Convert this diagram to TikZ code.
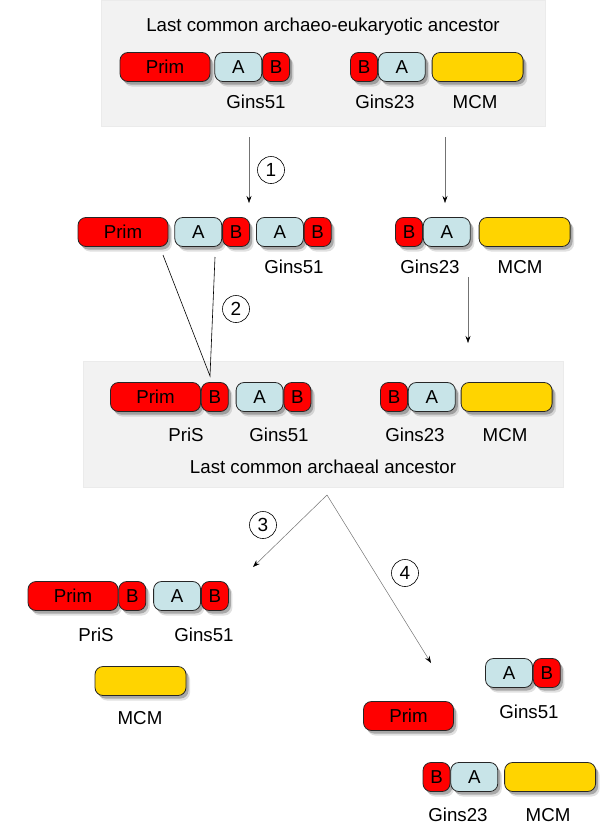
\documentclass[tikz,border=0pt]{standalone}
\usepackage{fontspec}
\setmainfont{Liberation Sans}
\usepackage{xcolor}
\usepackage{tikz}
\usetikzlibrary{arrows.meta, positioning, calc, shadows}

\definecolor{primred}{RGB}{255,0,0}
\definecolor{ablue}{RGB}{200,228,232}
\definecolor{mcmyellow}{RGB}{255,212,0}
\definecolor{panelgray}{RGB}{242,242,242}

\tikzset{
  pill/.style={draw=black!85, line width=0.8pt, rounded corners=8pt, minimum height=29pt,
    inner sep=0pt, text=black,
    drop shadow={shadow xshift=4pt, shadow yshift=-5pt, fill=black, opacity=0.12},
    drop shadow={shadow xshift=2.5pt, shadow yshift=-3pt, fill=black, opacity=0.25}},
  primbox/.style={pill, fill=primred, minimum width=90pt},
  abox/.style={pill, fill=ablue, minimum width=47pt},
  bbox/.style={pill, fill=primred, minimum width=27pt},
  mcmbox/.style={pill, fill=mcmyellow, minimum width=91pt},
  lbl/.style={inner sep=0pt},
  panel/.style={fill=panelgray, draw=black!8, inner sep=0pt},
  stepmark/.style={circle, draw=black, line width=0.6pt, minimum size=27pt, inner sep=0pt, font=\fontsize{19}{22}\selectfont},
  flow/.style={draw=black!55, line width=0.5pt, -{Stealth[length=7pt, width=5pt, black]}}
}

\begin{document}
\begin{tikzpicture}[x=1pt, y=-1pt, font=\fontsize{18.7}{22}\selectfont]
  \useasboundingbox (0,0) rectangle (604,827);
  % Grey panels for the two ancestors
  \node[panel, minimum width=444pt, minimum height=126pt] (lcaea) at (323,63) {};
  \node[panel, minimum width=480pt, minimum height=126pt] (lcaa) at (323,424) {};
  \node[lbl] (lcaea-t) at (323,27) {Last common archaeo-eukaryotic ancestor};
  \node[lbl] (lcaa-t) at (323,467) {Last common archaeal ancestor};

  % Top row (archaeo-eukaryotic ancestor)
  \node[primbox] (t-prim) at (165,67) {Prim};
  \node[abox, right=4pt of t-prim] (t-a51) {A};
  \node[bbox, right=0pt of t-a51] (t-b51) {B};
  \node[bbox] (t-b23) at (364,67) {B};
  \node[abox, right=0pt of t-b23] (t-a23) {A};
  \node[mcmbox, right=6pt of t-a23] (t-mcm) {};
  \node[lbl] (t-l51) at (256,102) {Gins51};
  \node[lbl] (t-l23) at (385,102) {Gins23};
  \node[lbl] (t-lmcm) at (475,102) {MCM};

  % Second row (duplication of Gins51)
  \node[primbox] (r-prim) at (123,232) {Prim};
  \node[abox, right=6pt of r-prim] (r-a1) {A};
  \node[bbox, right=0pt of r-a1] (r-b1) {B};
  \node[abox, right=6pt of r-b1] (r-a51) {A};
  \node[bbox, right=0pt of r-a51] (r-b51) {B};
  \node[bbox] (r-b23) at (409,232) {B};
  \node[abox, right=0pt of r-b23] (r-a23) {A};
  \node[mcmbox, right=8pt of r-a23] (r-mcm) {};
  \node[lbl] (r-l51) at (294,267) {Gins51};
  \node[lbl] (r-l23) at (430,267) {Gins23};
  \node[lbl] (r-lmcm) at (520,267) {MCM};

  % Archaeal ancestor row
  \node[primbox] (m-prim) at (155.5,397) {Prim};
  \node[bbox, right=0pt of m-prim] (m-pb) {B};
  \node[abox, right=7pt of m-pb] (m-a51) {A};
  \node[bbox, right=0pt of m-a51] (m-b51) {B};
  \node[bbox] (m-b23) at (394,397) {B};
  \node[abox, right=0pt of m-b23] (m-a23) {A};
  \node[mcmbox, right=5pt of m-a23] (m-mcm) {};
  \node[lbl] (m-lpris) at (186,435) {PriS};
  \node[lbl] (m-l51) at (279,435) {Gins51};
  \node[lbl] (m-l23) at (415,435) {Gins23};
  \node[lbl] (m-lmcm) at (505,435) {MCM};

  % Lineage 3
  \node[primbox] (l-prim) at (73,596) {Prim};
  \node[bbox, right=0pt of l-prim] (l-pb) {B};
  \node[abox, right=7pt of l-pb] (l-a51) {A};
  \node[bbox, right=0pt of l-a51] (l-b51) {B};
  \node[mcmbox] (l-mcm) at (140.5,681) {};
  \node[lbl] (l-lpris) at (96,635) {PriS};
  \node[lbl] (l-l51) at (204,635) {Gins51};
  \node[lbl] (l-lmcm) at (140,718) {MCM};

  % Lineage 4
  \node[abox] (b-a51) at (509,673) {A};
  \node[bbox, right=0pt of b-a51] (b-b51) {B};
  \node[primbox] (b-prim) at (408.5,716) {Prim};
  \node[bbox] (b-b23) at (436.5,777) {B};
  \node[abox, right=0pt of b-b23] (b-a23) {A};
  \node[mcmbox, right=6pt of b-a23] (b-mcm) {};
  \node[lbl] (b-l51) at (529,712) {Gins51};
  \node[lbl] (b-l23) at (458,815) {Gins23};
  \node[lbl] (b-lmcm) at (548,815) {MCM};

  % Connectors
  \coordinate (a1-s) at (249,137);
  \coordinate (a1-e) at (249,203);
  \coordinate (ar-s) at (445,137);
  \coordinate (ar-e) at (445,203);
  \coordinate (ar2-s) at (468,277);
  \coordinate (ar2-e) at (468,343);
  \coordinate (s2-p) at (163,255);
  \coordinate (s2-a) at (215,257);
  \coordinate (s2-tip) at (210,376);
  \coordinate (split) at (327,495);
  \coordinate (s3-e) at (253,567);
  \coordinate (s4-e) at (431,663);
  \draw[flow] (a1-s) -- (a1-e);
  \draw[flow] (ar-s) -- (ar-e);
  \draw[flow] (ar2-s) -- (ar2-e);
  \draw[black, line width=0.6pt] (s2-p) -- (s2-tip) -- (s2-a);
  \draw[flow] (split) -- (s3-e);
  \draw[flow] (split) -- (s4-e);

  % Step numbers
  \foreach \n/\x/\y in {1/271/170, 2/236/309, 3/263/525, 4/405/573}
    \node[stepmark] (step\n) at (\x,\y) {\n};
\end{tikzpicture}
\end{document}
